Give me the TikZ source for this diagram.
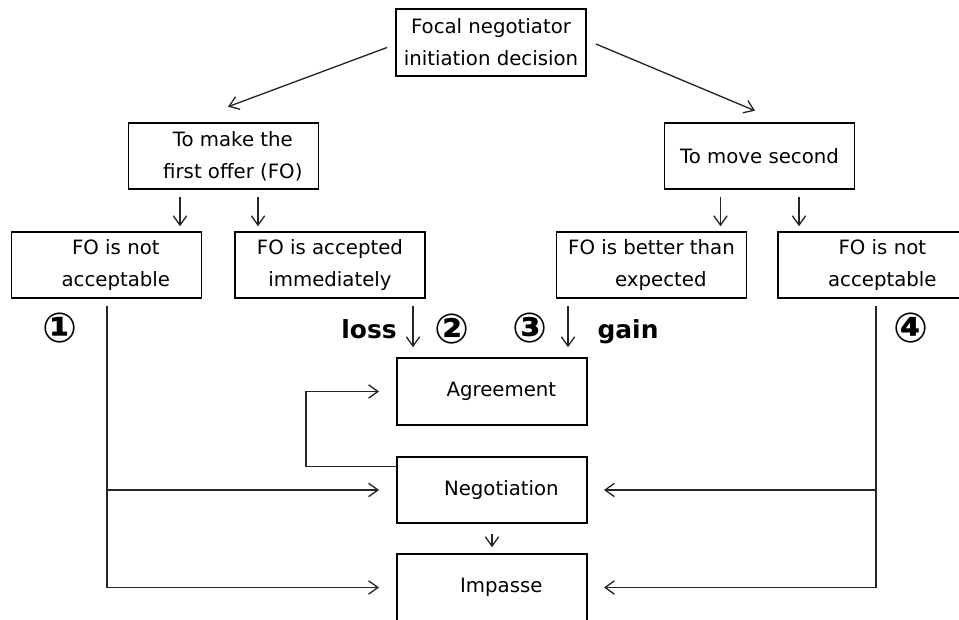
\documentclass[tikz,border=0pt]{standalone}
\usepackage{fontspec}
\setmainfont{DejaVu Sans}
\usetikzlibrary{arrows.meta,calc}
\newcommand{\txtshift}{\hspace*{14pt}}

\begin{document}
\begin{tikzpicture}[
  x=0.75pt,y=-0.75pt,
  box/.style={draw=black,line width=1.4pt,minimum width=142.5pt,minimum height=50pt,inner sep=0pt,align=center,font=\fontsize{14.8}{23.8}\selectfont},
  line/.style={draw=black!85,line width=1pt},
  arrow/.style={line,-{Straight Barb[length=7pt,width=10pt]}},
  num/.style={font=\fontsize{31}{31}\selectfont\bfseries},
  tag/.style={font=\fontsize{18.7}{20}\selectfont\bfseries}
]
\useasboundingbox (0,0) rectangle (959,620);
\node[box] (focal) at (491,42.5) {Focal negotiator\\initiation decision};
\node[box] (first) at (223.5,156) {\txtshift To make the\\\txtshift first offer (FO)};
\node[box] (second) at (759.5,156) {To move second};
\node[box] (notacc1) at (106.5,265) {\txtshift FO is not\\\txtshift acceptable};
\node[box] (accepted) at (330,265) {FO is accepted\\immediately};
\node[box] (better) at (651.5,265) {FO is better than\\\txtshift expected};
\node[box] (notacc2) at (873,265) {\txtshift FO is not\\\txtshift acceptable};
\node[box] (agree) at (492,391.5) {\txtshift Agreement};
\node[box] (nego) at (492,490) {\txtshift Negotiation};
\node[box] (impasse) at (492,587.5) {\txtshift Impasse};
% first split
\draw[arrow] ($(focal.west)+(-8,5)$) -- ($(first.north)+(4.5,-15)$);
\draw[arrow] ($(focal.east)+(9,1.5)$) -- ($(second.north)+(-4.5,-11)$);
\draw[arrow] ($(first.south)+(-43.5,7)$) -- ++(0,29);
\draw[arrow] ($(first.south)+(34.5,7)$) -- ++(0,29);
\draw[arrow] ($(second.south)+(-39,7)$) -- ++(0,29);
\draw[arrow] ($(second.south)+(39.5,7)$) -- ++(0,29);
% outcomes
\draw[arrow] ($(agree.north)+(-79,-51)$) -- ++(0,41);
\draw[arrow] ($(agree.north)+(76,-51)$) -- ++(0,41);
\draw[arrow] ($(notacc1.south)+(0.5,7)$) |- ($(impasse.west)+(-17,0)$);
\draw[arrow] (notacc1.south |- nego.west) -- ($(nego.west)+(-17,0)$);
\draw[arrow] ($(notacc2.south)+(3,7)$) |- ($(impasse.east)+(16,0)$);
\draw[arrow] ($(notacc2.south |- nego.east)+(3,0)$) -- ($(nego.east)+(16,0)$);
\draw[arrow] ($(nego.north west)+(0,11)$) -| ($(agree.west)+(-90,0)$) -- ($(agree.west)+(-17,0)$);
\draw[arrow] ($(nego.south)+(0,10)$) -- ($(impasse.north)+(0,-6)$);
% labels
\node[num] (n1) at (60,328) {①};
\node[num] (n2) at (452,329) {②};
\node[num] (n3) at (530,328) {③};
\node[num] (n4) at (911,328) {④};
\node[tag,anchor=base] (loss) at (369,338) {loss};
\node[tag,anchor=base] (gain) at (628,338) {gain};
\end{tikzpicture}
\end{document}
